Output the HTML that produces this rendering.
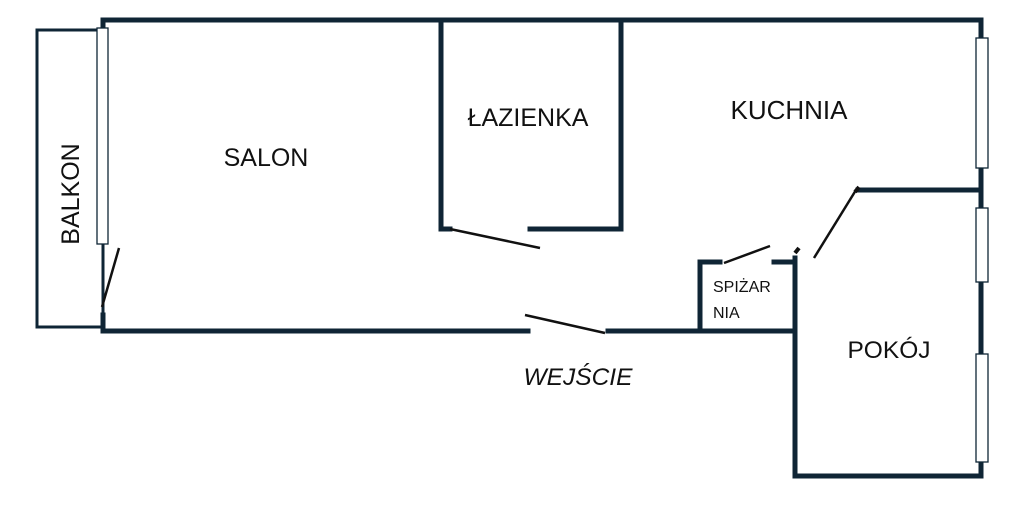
<!DOCTYPE html>
<html><head><meta charset="utf-8"><style>
html,body{margin:0;padding:0;background:#fff;width:1024px;height:515px;overflow:hidden}
svg{display:block}
text{font-family:"Liberation Sans",sans-serif;fill:#111}
</style></head><body>
<svg width="1024" height="515" viewBox="0 0 1024 515" xmlns="http://www.w3.org/2000/svg">
<g stroke="#0f2535" stroke-width="5" fill="none" stroke-linecap="square">
<polyline points="103,28 103,20 981,20 981,476 795,476 795,258"/>
<line x1="103" y1="315" x2="103" y2="331"/>
<line x1="103" y1="331" x2="528" y2="331"/>
<line x1="608" y1="331" x2="795" y2="331"/>
<polyline points="441,20 441,229 450,229"/>
<polyline points="530,229 621,229 621,20"/>
<polyline points="720,262 700,262 700,331"/>
<line x1="774" y1="262" x2="795" y2="262"/>
<line x1="858" y1="190" x2="981" y2="190"/>
</g>
<g stroke="#0f2535" stroke-width="3" fill="none">
<rect x="37" y="30" width="66" height="297"/>
</g>
<g stroke="#111" stroke-width="2.5">
<line x1="119" y1="248" x2="102" y2="307"/>
<line x1="450" y1="229" x2="540" y2="248"/>
<line x1="525" y1="315" x2="605" y2="333"/>
<line x1="724" y1="263" x2="770" y2="246"/>
<line x1="814" y1="258" x2="856" y2="190"/>
<line x1="795" y1="253" x2="799" y2="248" stroke-width="4"/>
<line x1="855" y1="192" x2="859" y2="187" stroke-width="4"/>
</g>
<g stroke="#0f2535" stroke-width="1.3" fill="#fff">
<rect x="97" y="28" width="11" height="216"/>
<rect x="976" y="38" width="12" height="130"/>
<rect x="976" y="208" width="12" height="74"/>
<rect x="976" y="354" width="12" height="108"/>
</g>
<text x="266" y="166" font-size="25" text-anchor="middle">SALON</text>
<text x="528" y="126" font-size="25" text-anchor="middle">ŁAZIENKA</text>
<text x="789" y="119" font-size="26" text-anchor="middle">KUCHNIA</text>
<text x="889" y="358" font-size="24.5" text-anchor="middle">POKÓJ</text>
<text x="578" y="385" font-size="24.5" text-anchor="middle" font-style="italic">WEJŚCIE</text>
<text x="713" y="292" font-size="16">SPIŻAR</text>
<text x="713" y="318" font-size="16">NIA</text>
<text transform="translate(79,194) rotate(-90)" font-size="25" text-anchor="middle">BALKON</text>
</svg>
</body></html>
